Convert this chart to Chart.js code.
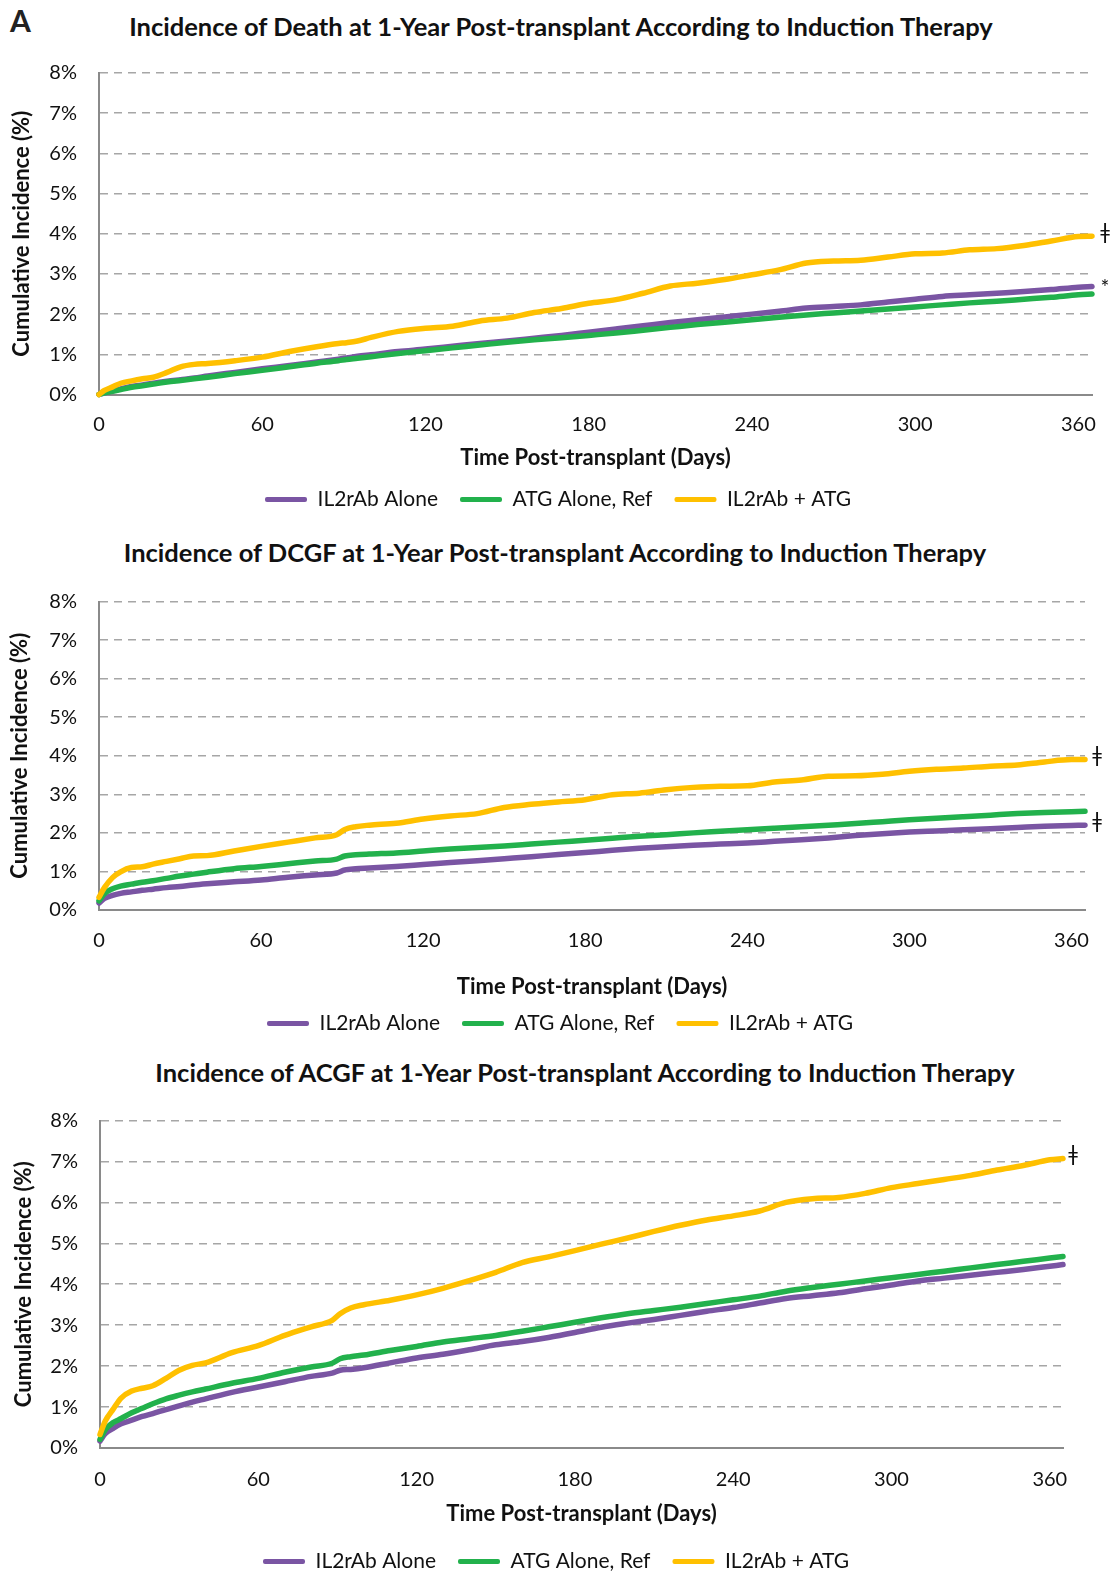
<!DOCTYPE html>
<html>
<head>
<meta charset="utf-8">
<script src="https://cdn.jsdelivr.net/npm/chart.js@4.4.1/dist/chart.umd.min.js"></script>
<style>
  body { margin: 0; background: #fff; width: 1119px; height: 1572px; position: relative; overflow: hidden; font-family: Lato, "DejaVu Sans", sans-serif; }
  .box { position: absolute; left: 0; width: 1119px; }
  .ttl { position: absolute; font-weight: bold; font-size: 25.5px; color: #111; white-space: nowrap; transform: translate(-50%, -50%); line-height: 1; }
  #panel { position: absolute; left: 10px; top: 5px; font-weight: bold; font-size: 30px; color: #222; line-height: 1; }
</style>
</head>
<body>
<div id="panel">A</div>
<div class="ttl" style="left:561px; top:27px">Incidence of Death at 1-Year Post-transplant According to Induction Therapy</div>
<div class="ttl" style="left:555px; top:553px">Incidence of DCGF at 1-Year Post-transplant According to Induction Therapy</div>
<div class="ttl" style="left:585px; top:1073px">Incidence of ACGF at 1-Year Post-transplant According to Induction Therapy</div>
<div class="box" style="top:0; height:520px"><canvas id="c1"></canvas></div>
<div class="box" style="top:520px; height:524px"><canvas id="c2"></canvas></div>
<div class="box" style="top:1044px; height:538px"><canvas id="c3"></canvas></div>
<script>
// days post-transplant where the curves were read
const days = [0, 2, 5, 8, 12, 16, 20, 25, 30, 35, 40, 50, 60, 70, 80, 88, 91, 95, 100,
  110, 120, 130, 140, 150, 160, 170, 180, 190, 200, 210, 220, 230, 240, 250, 260,
  270, 280, 290, 300, 310, 320, 330, 340, 350, 360, 365];

// Death (%)
const deathIl2 = [0, 0.04, 0.09, 0.14, 0.20, 0.24, 0.28, 0.33, 0.37, 0.41, 0.46, 0.55, 0.64, 0.72, 0.81, 0.88, 0.91, 0.95, 0.99,
  1.07, 1.13, 1.20, 1.27, 1.33, 1.40, 1.47, 1.55, 1.63, 1.71, 1.79, 1.86, 1.93, 2.00, 2.07, 2.15,
  2.19, 2.23, 2.30, 2.37, 2.44, 2.48, 2.52, 2.56, 2.61, 2.67, 2.69];
const deathAtg = [0, 0.04, 0.08, 0.12, 0.18, 0.22, 0.26, 0.31, 0.35, 0.39, 0.43, 0.52, 0.60, 0.69, 0.78, 0.84, 0.87, 0.90, 0.94,
  1.02, 1.09, 1.16, 1.23, 1.30, 1.36, 1.41, 1.47, 1.53, 1.60, 1.67, 1.74, 1.80, 1.86, 1.92, 1.98,
  2.03, 2.08, 2.13, 2.18, 2.23, 2.28, 2.32, 2.37, 2.42, 2.48, 2.50];
const deathBoth = [0, 0.10, 0.19, 0.28, 0.34, 0.39, 0.43, 0.55, 0.69, 0.75, 0.77, 0.84, 0.93, 1.07, 1.19, 1.27, 1.29, 1.33, 1.42,
  1.57, 1.65, 1.70, 1.83, 1.90, 2.04, 2.14, 2.27, 2.36, 2.52, 2.70, 2.77, 2.86, 2.98, 3.10, 3.27,
  3.32, 3.34, 3.42, 3.50, 3.52, 3.60, 3.63, 3.71, 3.82, 3.93, 3.94];

// DCGF (%)
const dcgfIl2 = [0.18, 0.30, 0.38, 0.43, 0.47, 0.51, 0.54, 0.58, 0.61, 0.65, 0.68, 0.73, 0.78, 0.85, 0.91, 0.96, 1.04, 1.07, 1.09,
  1.13, 1.18, 1.23, 1.28, 1.33, 1.38, 1.44, 1.49, 1.55, 1.60, 1.64, 1.68, 1.71, 1.74, 1.78, 1.82,
  1.87, 1.93, 1.98, 2.02, 2.05, 2.08, 2.11, 2.14, 2.17, 2.19, 2.20];
const dcgfAtg = [0.24, 0.42, 0.55, 0.62, 0.67, 0.72, 0.76, 0.82, 0.88, 0.93, 0.98, 1.07, 1.13, 1.20, 1.27, 1.32, 1.40, 1.43, 1.45,
  1.48, 1.53, 1.58, 1.62, 1.66, 1.71, 1.76, 1.81, 1.86, 1.91, 1.95, 2.00, 2.04, 2.08, 2.12, 2.16,
  2.20, 2.24, 2.29, 2.34, 2.38, 2.42, 2.46, 2.50, 2.53, 2.55, 2.56];
const dcgfBoth = [0.33, 0.58, 0.84, 0.99, 1.10, 1.12, 1.19, 1.26, 1.33, 1.40, 1.41, 1.53, 1.65, 1.76, 1.87, 1.95, 2.09, 2.16, 2.20,
  2.25, 2.36, 2.44, 2.50, 2.66, 2.74, 2.80, 2.86, 2.99, 3.03, 3.12, 3.18, 3.21, 3.22, 3.32, 3.37,
  3.47, 3.48, 3.52, 3.60, 3.65, 3.68, 3.73, 3.76, 3.84, 3.90, 3.90];

// ACGF (%)
const acgfIl2 = [0.17, 0.35, 0.48, 0.59, 0.68, 0.77, 0.84, 0.94, 1.03, 1.12, 1.20, 1.36, 1.49, 1.62, 1.75, 1.83, 1.90, 1.92, 1.96,
  2.08, 2.20, 2.29, 2.40, 2.52, 2.60, 2.70, 2.82, 2.95, 3.05, 3.14, 3.24, 3.34, 3.43, 3.54, 3.65,
  3.72, 3.79, 3.89, 3.98, 4.08, 4.15, 4.22, 4.29, 4.36, 4.44, 4.48];
const acgfAtg = [0.21, 0.45, 0.62, 0.72, 0.86, 0.97, 1.08, 1.20, 1.29, 1.37, 1.44, 1.58, 1.70, 1.85, 1.98, 2.07, 2.18, 2.23, 2.27,
  2.38, 2.48, 2.59, 2.67, 2.75, 2.85, 2.96, 3.07, 3.18, 3.28, 3.36, 3.44, 3.53, 3.62, 3.71, 3.83,
  3.92, 4.00, 4.08, 4.16, 4.24, 4.32, 4.40, 4.48, 4.56, 4.64, 4.68];
const acgfBoth = [0.33, 0.66, 0.95, 1.22, 1.39, 1.46, 1.52, 1.70, 1.90, 2.02, 2.08, 2.33, 2.50, 2.75, 2.96, 3.12, 3.28, 3.42, 3.50,
  3.61, 3.74, 3.90, 4.09, 4.29, 4.53, 4.67, 4.82, 4.98, 5.13, 5.29, 5.44, 5.57, 5.67, 5.79, 6.00,
  6.09, 6.12, 6.22, 6.36, 6.46, 6.56, 6.66, 6.79, 6.90, 7.04, 7.07];

const seriesNames = ['IL2rAb Alone', 'ATG Alone, Ref', 'IL2rAb + ATG'];
const seriesColors = ['#7A55A3', '#22B14C', '#FFC000'];
const xTicks = [0, 60, 120, 180, 240, 300, 360];
const yTicks = [0, 1, 2, 3, 4, 5, 6, 7, 8];

// significance marks at the end of each curve
const deathMarks = ['*', '', 'ǂ'];
const dcgfMarks = ['ǂ', '', 'ǂ'];
const acgfMarks = ['', '', 'ǂ'];

const FONT = 'Lato, "DejaVu Sans", sans-serif';
const INK = '#111';

const endMarks = {
  id: 'endMarks',
  afterDatasetsDraw(chart, args, opts) {
    const ctx = chart.ctx;
    ctx.save();
    ctx.font = '21px ' + FONT;
    ctx.fillStyle = INK;
    ctx.textAlign = 'center';
    ctx.textBaseline = 'middle';
    (opts.marks || []).forEach((m, i) => {
      if (!m) return;
      const pts = chart.getDatasetMeta(i).data;
      const p = pts[pts.length - 1];
      const dy = m === '*' ? opts.dyStar : opts.dy;
      ctx.fillText(m, p.x + opts.dx, p.y + dy);
    });
    ctx.restore();
  }
};

function makeChart(id, series, marks, lay) {
  const datasets = series.map((vals, i) => ({
    label: seriesNames[i],
    data: days.map((d, j) => ({ x: d, y: vals[j] })),
    borderColor: seriesColors[i],
    backgroundColor: seriesColors[i],
    borderWidth: 5.5,
    pointRadius: 0,
    cubicInterpolationMode: 'monotone',
    borderCapStyle: 'round',
    borderJoinStyle: 'round',
    clip: false,
    order: 3 - i
  }));

  return new Chart(document.getElementById(id), {
    type: 'line',
    data: { datasets },
    plugins: [endMarks],
    options: {
      responsive: true,
      maintainAspectRatio: false,
      animation: false,
      events: [],
      layout: { padding: { top: lay.top, left: lay.left, right: lay.right, bottom: 0 } },
      plugins: {
        title: { display: false },
        tooltip: { enabled: false },
        legend: {
          position: 'bottom',
          labels: {
            color: INK,
            font: { family: FONT, size: 21 },
            boxWidth: 42,
            boxHeight: 5,
            padding: 22,
            useBorderRadius: true,
            borderRadius: 2,
            generateLabels: ch => Chart.defaults.plugins.legend.labels.generateLabels(ch)
              .map(l => ({ ...l, lineWidth: 0 })),
            sort: (a, b) => a.datasetIndex - b.datasetIndex
          }
        },
        endMarks: { marks, dx: lay.markDx, dy: -4, dyStar: 2 }
      },
      scales: {
        x: {
          type: 'linear',
          min: 0,
          max: 365,
          afterBuildTicks: ax => { ax.ticks = xTicks.map(v => ({ value: v })); },
          grid: { display: false, drawTicks: false },
          border: { color: '#8a8a8a', width: 2 },
          ticks: { color: INK, font: { family: FONT, size: 20 }, padding: lay.xTickPad, maxRotation: 0, autoSkip: false },
          title: {
            display: true,
            text: 'Time Post-transplant (Days)',
            color: INK,
            font: { family: FONT, size: 22, weight: 'bold' },
            padding: { top: lay.xTitleTop, bottom: lay.xTitleBottom }
          }
        },
        y: {
          min: 0,
          max: 8,
          afterBuildTicks: ax => { ax.ticks = yTicks.map(v => ({ value: v })); },
          afterFit: ax => { ax.width = lay.yWidth; },
          grid: { color: '#a6a6a6', lineWidth: 1.6, drawTicks: false },
          border: { color: '#8a8a8a', width: 2, dash: [8, 6] },
          ticks: { color: INK, font: { family: FONT, size: 20 }, padding: 22, callback: v => v + '%' },
          title: {
            display: true,
            text: 'Cumulative Incidence (%)',
            color: INK,
            font: { family: FONT, size: 22, weight: 'bold' },
            padding: { top: lay.yTitleTop, bottom: 0 }
          }
        }
      }
    }
  });
}

makeChart('c1', [deathIl2, deathAtg, deathBoth], deathMarks,
  { top: 73, left: 24, right: 27, yWidth: 75, yTitleTop: -15.2, xTickPad: 18, xTitleTop: -10.2, xTitleBottom: -3.7, markDx: 13 });
makeChart('c2', [dcgfIl2, dcgfAtg, dcgfBoth], dcgfMarks,
  { top: 81.5, left: 35, right: 34, yWidth: 64, yTitleTop: -28.2, xTickPad: 19, xTitleTop: 1.3, xTitleBottom: -8.7, markDx: 12 });
makeChart('c3', [acgfIl2, acgfAtg, acgfBoth], acgfMarks,
  { top: 76.5, left: 49, right: 56, yWidth: 51, yTitleTop: -38.2, xTickPad: 20, xTitleTop: -11.2, xTitleBottom: 1.8, markDx: 10 });
</script>
</body>
</html>
